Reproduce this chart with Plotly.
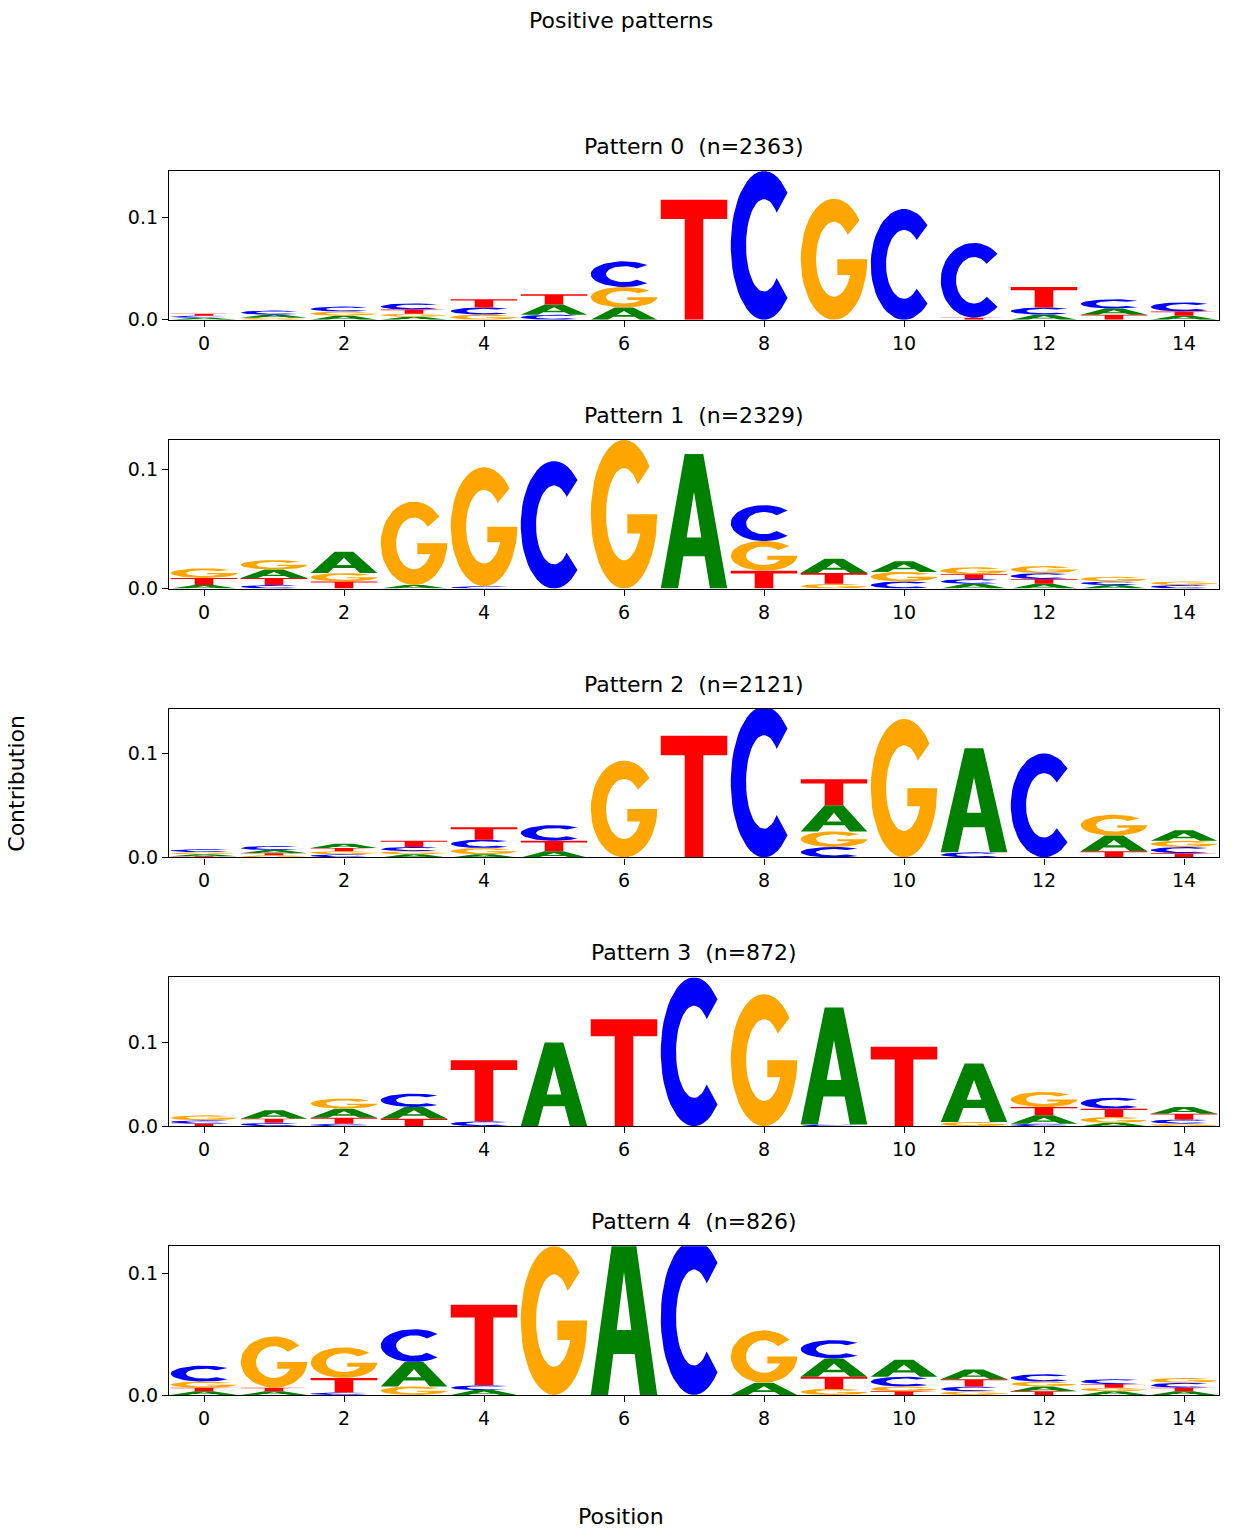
import numpy as np
import plotly.graph_objects as go
from plotly.subplots import make_subplots

# --- data: per-letter contribution at each of 15 positions, one block per pattern ---
positions = list(range(15))
pattern_titles = ["Pattern 0  (n=2363)", "Pattern 1  (n=2329)", "Pattern 2  (n=2121)",
                  "Pattern 3  (n=872)", "Pattern 4  (n=826)"]
y_max = [0.145, 0.125, 0.143, 0.178, 0.122]

p0_A = [.002, .003, .004, .003, 0, .01, .012, 0, 0, 0, 0, 0, .005, .006, .004]
p0_C = [.002, .004, .005, .006, .007, .005, .025, 0, .145, 0, .108, .073, .007, .009, .009]
p0_G = [0, .002, .004, .003, .005, 0, .02, 0, 0, .118, 0, 0, 0, 0, 0]
p0_T = [.002, 0, 0, .004, .008, .01, 0, .117, 0, 0, 0, .002, .02, .005, .004]

p1_A = [.003, .007, .018, .003, 0, 0, 0, .113, 0, .012, .009, .004, .004, .003, 0]
p1_C = [0, .003, 0, 0, .002, .107, 0, 0, .03, 0, .006, .004, .005, .003, .003]
p1_G = [.008, .008, .007, .07, .1, 0, .125, 0, .025, .004, .008, .006, .006, .004, .003]
p1_T = [.006, .006, .006, 0, 0, 0, 0, 0, .015, .009, 0, .004, .004, 0, 0]

p2_A = [.002, .003, .004, .003, .003, .006, 0, 0, 0, .025, 0, .1, 0, .015, .01]
p2_C = [.003, .004, .003, .004, .008, .015, 0, 0, .145, .01, 0, .005, .1, 0, .006]
p2_G = [.002, .002, .003, .003, .006, 0, .093, 0, 0, .015, .133, 0, 0, .02, .006]
p2_T = [.001, .002, .003, .006, .012, .01, 0, .117, 0, .025, 0, 0, 0, .006, .004]

p3_A = [0, .01, .011, .014, 0, .1, 0, 0, 0, .14, 0, .07, .01, .004, .008]
p3_C = [.004, .004, .003, .016, .006, 0, 0, .178, 0, .002, 0, 0, .003, .013, .005]
p3_G = [.006, 0, .012, 0, 0, 0, 0, 0, .158, 0, 0, .005, .018, .007, .003]
p3_T = [.003, .005, .007, .009, .073, 0, .128, 0, 0, 0, .095, 0, .01, .01, .007]

p4_A = [.003, .003, 0, .02, .004, 0, .14, 0, .01, .015, .014, .008, .004, .003, .003]
p4_C = [.013, 0, .002, .027, .004, 0, 0, .127, 0, .015, .008, .004, .006, .004, .004]
p4_G = [.005, .042, .025, .007, 0, .122, 0, 0, .043, .005, .004, .003, .004, .003, .004]
p4_T = [.003, .003, .012, 0, .066, 0, 0, 0, 0, .01, .003, .006, .003, .003, .003]

patterns = [
    {"A": p0_A, "C": p0_C, "G": p0_G, "T": p0_T},
    {"A": p1_A, "C": p1_C, "G": p1_G, "T": p1_T},
    {"A": p2_A, "C": p2_C, "G": p2_G, "T": p2_T},
    {"A": p3_A, "C": p3_C, "G": p3_G, "T": p3_T},
    {"A": p4_A, "C": p4_C, "G": p4_G, "T": p4_T},
]
letter_colors = {"A": "#008000", "C": "#0000ff", "G": "#ffa500", "T": "#ff0000"}


# --- glyph outlines in a unit box (list of polygons each) ---
RX_IN, RY_IN = 0.27, 0.31


def _arc(rx, ry, a0, a1, n=40):
    t = np.radians(np.linspace(a0, a1, n))
    return list(zip(0.5 + rx * np.cos(t), 0.5 + ry * np.sin(t)))


def _ring(a0, a1):
    return _arc(0.5, 0.5, a0, a1) + _arc(RX_IN, RY_IN, a1, a0)


_g_inner_end = _arc(RX_IN, RY_IN, 335, 335, 1)[0]
G_POLY = (_arc(0.5, 0.5, 40, 360) + [(0.55, 0.5), (0.55, 0.37), (_g_inner_end[0], 0.37)]
          + _arc(RX_IN, RY_IN, 335, 40))

GLYPHS = {
    "T": [[(0, 1), (1, 1), (1, 0.84), (0.64, 0.84), (0.64, 0), (0.36, 0), (0.36, 0.84), (0, 0.84)]],
    "A": [[(0, 0), (0.36, 1), (0.64, 1), (1, 0), (0.74, 0), (0.66, 0.24), (0.34, 0.24), (0.26, 0)]],
    "C": [_ring(45, 315)],
    "G": [G_POLY],
}
HOLES = {"A": [[(0.39, 0.38), (0.61, 0.38), (0.5, 0.72)]]}
WIDTH = 0.95

fig = make_subplots(rows=5, cols=1, vertical_spacing=120 / 1224)

for r, pat in enumerate(patterns, start=1):
    xs = {k: [] for k in "ACGT"}
    ys = {k: [] for k in "ACGT"}
    hx, hy = [], []
    for i, pos in enumerate(positions):
        stack = sorted(((pat[k][i], k) for k in "ACGT"), key=lambda t: t[0])
        base = 0.0
        for h, k in stack:
            if h <= 0:
                continue
            for poly in GLYPHS[k]:
                for px, py in poly:
                    xs[k].append(pos - WIDTH / 2 + px * WIDTH)
                    ys[k].append(base + py * h)
                xs[k].append(None)
                ys[k].append(None)
            for poly in HOLES.get(k, []):
                for px, py in poly:
                    hx.append(pos - WIDTH / 2 + px * WIDTH)
                    hy.append(base + py * h)
                hx.append(None)
                hy.append(None)
            base += h
    for k in "ACGT":
        fig.add_trace(go.Scatter(x=xs[k], y=ys[k], mode="lines", fill="toself",
                                 fillcolor=letter_colors[k], line=dict(width=0),
                                 hoverinfo="skip", showlegend=False), row=r, col=1)
    fig.add_trace(go.Scatter(x=hx, y=hy, mode="lines", fill="toself", fillcolor="white",
                             line=dict(width=0), hoverinfo="skip", showlegend=False), row=r, col=1)
    fig.update_xaxes(range=[-0.5, 14.5], tickvals=list(range(0, 15, 2)), row=r, col=1)
    fig.update_yaxes(range=[0, y_max[r - 1]], tickvals=[0, 0.1], ticktext=["0.0", "0.1"], row=r, col=1)

axis_style = dict(showgrid=False, zeroline=False, showline=True, mirror=True, linecolor="black",
                  linewidth=1.3, ticks="outside", ticklen=6, tickcolor="black",
                  tickfont=dict(size=19, color="black"))
fig.update_xaxes(**axis_style)
fig.update_yaxes(**axis_style)

annotations = []
for r, title in enumerate(pattern_titles, start=1):
    dom = fig.layout["yaxis" + ("" if r == 1 else str(r))].domain
    annotations.append(dict(text=title, x=0.5, y=dom[1], xref="paper", yref="paper",
                            xanchor="center", yanchor="bottom", yshift=10, showarrow=False,
                            font=dict(size=22, color="black")))
annotations.append(dict(text="Contribution", x=-0.146, y=0.5, xref="paper", yref="paper",
                        xanchor="center", yanchor="middle", showarrow=False,
                        textangle=-90, font=dict(size=22, color="black")))
annotations.append(dict(text="Position", x=(621 - 169) / 1050, y=-0.099, xref="paper", yref="paper",
                        xanchor="center", yanchor="middle",
                        showarrow=False, font=dict(size=22, color="black")))
annotations.append(dict(text="Positive patterns", x=(621 - 169) / 1050, y=1.123, xref="paper",
                        yref="paper", xanchor="center", yanchor="middle",
                        showarrow=False, font=dict(size=22, color="black")))

fig.update_layout(width=1238, height=1540, margin=dict(l=161, r=27, t=163, b=153),
                  plot_bgcolor="white", paper_bgcolor="white",
                  font=dict(family="DejaVu Sans", color="black"), annotations=annotations)

fig.write_html("out.html")
